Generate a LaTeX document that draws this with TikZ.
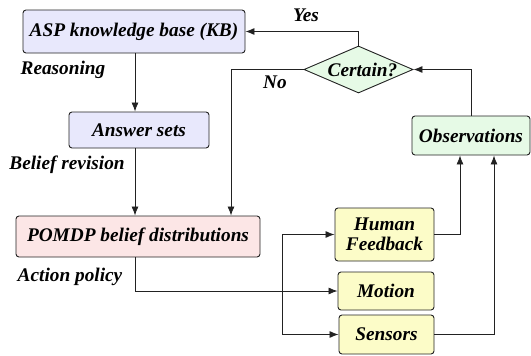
\documentclass[tikz,border=0pt]{standalone}
\usepackage{fontspec}
\setmainfont{Liberation Serif}
\usetikzlibrary{shapes.geometric,arrows.meta,calc}
\definecolor{lav}{HTML}{E8E8FC}
\definecolor{mint}{HTML}{E6FAE6}
\definecolor{pinkish}{HTML}{FCE6E6}
\definecolor{yel}{HTML}{FCFCC8}
\definecolor{edge}{HTML}{222222}
\tikzset{
  txt/.style={font=\fontsize{19.3}{20}\selectfont\bfseries\itshape},
  box/.style={draw=edge, line width=0.9pt, rounded corners=3pt, inner sep=0pt, txt, align=center},
  lab/.style={txt, inner sep=0pt},
  arr/.style={draw=edge, line width=0.85pt, -{Latex[length=9pt,width=7pt]}},
}
\begin{document}
\begin{tikzpicture}[x=1pt,y=-1pt]
\useasboundingbox (0,0) rectangle (531,356);
\node[box, fill=lav, minimum width=222, minimum height=43] (kb) at (134,31.5) {ASP knowledge base (KB)};
\node[box, fill=lav, minimum width=140, minimum height=36] (ans) at (139,130) {Answer sets};
\node[draw=edge, line width=0.9pt, diamond, fill=mint, minimum width=109, minimum height=47, inner sep=0pt,
  label={[txt, inner sep=0pt, xshift=4pt]center:Certain?}] (dia) at (358.5,69.5) {};
\node[box, fill=mint, minimum width=118, minimum height=39] (obs) at (471,135.5) {Observations};
\node[box, fill=pinkish, minimum width=244, minimum height=41] (pom) at (138,236.5) {POMDP belief distributions};
\node[box, fill=yel, minimum width=99, minimum height=53] (hf) at (384.5,234.5) {Human\\Feedback};
\node[box, fill=yel, minimum width=96, minimum height=38] (mot) at (386,291) {Motion};
\node[box, fill=yel, minimum width=95, minimum height=39] (sen) at (386.5,334.5) {Sensors};

\node[lab] (l1) at (63,70) {Reasoning};
\node[lab] (l2) at (67,165) {Belief revision};
\node[lab] (l3) at (306,15) {Yes};
\node[lab] (l4) at (275,82) {No};
\node[lab] (l5) at (70,277) {Action policy};

\coordinate (x1) at (135,0);
\coordinate (x2) at (231,0);
\coordinate (br) at (282,291);
\coordinate (o1) at (460,0);
\coordinate (o2) at (494,0);

\draw[arr] (x1 |- kb.south) -- (x1 |- ans.north);
\draw[arr] (x1 |- ans.south) -- (x1 |- pom.north);
\draw[arr] (dia.west) -| (x2 |- pom.north);
\draw[arr] (dia.north) |- (kb.east);
\draw[arr] (obs.north) |- (dia.east);
\draw[arr] (x1 |- pom.south) |- (mot.west);
\draw[arr] (br) |- (hf.west);
\draw[arr] (br) |- (sen.west);
\draw[arr] (hf.east) -| (o1 |- obs.south);
\draw[arr] (sen.east) -| (o2 |- obs.south);
\end{tikzpicture}
\end{document}
